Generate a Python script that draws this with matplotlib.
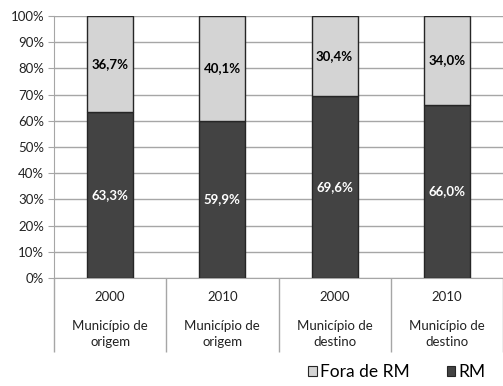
import matplotlib
matplotlib.use("Agg")
import matplotlib.pyplot as plt
from matplotlib.patches import Patch
import matplotlib.transforms as mtransforms

years = ["2000", "2010", "2000", "2010"]
groups = ["Município de\norigem", "Município de\norigem", "Município de\ndestino", "Município de\ndestino"]
rm = [63.3, 59.9, 69.6, 66.0]
fora = [36.7, 40.1, 30.4, 34.0]
yticks = [0, 10, 20, 30, 40, 50, 60, 70, 80, 90, 100]

plt.rcParams['font.family'] = ['Lato', 'DejaVu Sans']

dark = "#434343"
light = "#d4d4d4"
edge = "#262626"
grid = "#a6a6a6"

fig = plt.figure(figsize=(5.03, 3.86), dpi=100)
ax = fig.add_axes([54/503, 1-278/386, 449/503, 262/386])

x = list(range(len(rm)))
w = 0.41
ax.bar(x, rm, width=w, color=dark, edgecolor=edge, linewidth=1.0, zorder=3)
ax.bar(x, fora, width=w, bottom=rm, color=light, edgecolor=edge, linewidth=1.0, zorder=3)

def fmt(v):
    return f"{v:.1f}%".replace(".", ",")

for xi, r, f in zip(x, rm, fora):
    ax.text(xi, r/2, fmt(r), ha="center", va="center", color="white",
            fontsize=9.5, fontweight="bold", zorder=4)
    ax.text(xi, r + f/2, fmt(f), ha="center", va="center", color="black",
            fontsize=9.5, fontweight="bold", zorder=4)

ax.set_xlim(-0.5, len(rm) - 0.5)
ax.set_ylim(0, 100)
ax.set_yticks(yticks)
ax.set_yticklabels([f"{t}%" for t in yticks], fontsize=9.5, color="#222222")
ax.yaxis.grid(True, color=grid, linewidth=1.0, zorder=0)
ax.tick_params(axis="y", length=4, color=grid, pad=3)

ax.set_xticks([])
ax.set_xticks([i - 0.5 for i in range(len(rm) + 1)], minor=True)
ax.tick_params(axis="x", which="minor", length=53, color=grid, width=1.0)
ax.set_xticklabels([], minor=True)

for s in ["top", "right"]:
    ax.spines[s].set_visible(False)
ax.spines["left"].set_color(grid)
ax.spines["bottom"].set_color(grid)

trans = mtransforms.blended_transform_factory(ax.transData, fig.transFigure)
for xi, yr, g in zip(x, years, groups):
    ax.text(xi, 1 - 297/386, yr, transform=trans, ha="center", va="center",
            fontsize=9.5, color="#222222")
    ax.text(xi, 1 - 334/386, g, transform=trans, ha="center", va="center",
            fontsize=9.5, color="#222222", linespacing=1.35)

handles = [Patch(facecolor=light, edgecolor=edge, linewidth=0.8, label="Fora de RM"),
           Patch(facecolor=dark, edgecolor=edge, linewidth=0.8, label="RM")]
fig.legend(handles=handles, loc="center", bbox_to_anchor=(397/503, 1 - 372/386),
           ncol=2, frameon=False, fontsize=12.5, handlelength=0.5, handleheight=0.5,
           handletextpad=0.2, columnspacing=2.1, borderpad=0, borderaxespad=0)

fig.savefig("out.png", dpi=100)
